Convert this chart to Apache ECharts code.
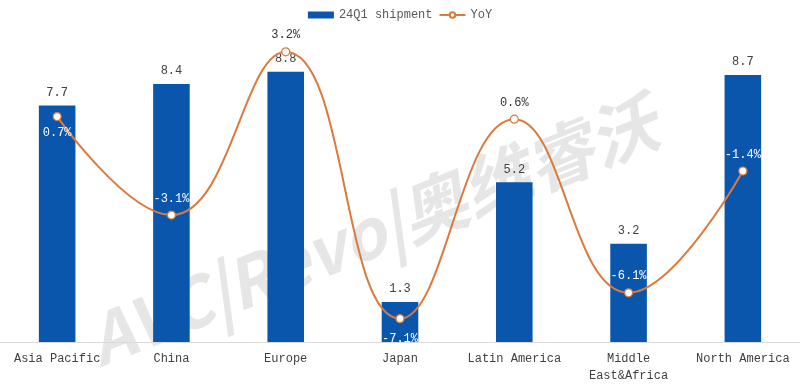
<!DOCTYPE html>
<html><head><meta charset="utf-8">
<script src="https://cdn.jsdelivr.net/npm/echarts@6/dist/echarts.min.js"></script>
<style>html,body{margin:0;padding:0;background:#fff}#c{width:800px;height:384px}</style>
</head><body><div id="c"></div>
<script>
const categories = ['Asia Pacific','China','Europe','Japan','Latin America','Middle\nEast&Africa','North America'];
const shipment = [7.7, 8.4, 8.8, 1.3, 5.2, 3.2, 8.7];
const yoy = [0.7, -3.1, 3.2, -7.1, 0.6, -6.1, -1.4];
const yoyLabelPos = ['bottom','top','top','bottom','top','top','top'];
const yoyLabelColor = ['#fff','#fff','#333','#fff','#333','#fff','#fff'];
const FONT = '"Liberation Mono", "DejaVu Sans Mono", monospace';

const chart = echarts.init(document.getElementById('c'));
chart.setOption({
  animation: false,
  textStyle: {fontFamily: FONT},
  legend: {
    top: 4, left: 'center', itemGap: 6, itemWidth: 26, itemHeight: 7,
    textStyle: {fontFamily: FONT, fontSize: 12, color: '#595959'},
    data: [{name: '24Q1 shipment', icon: 'rect'}, {name: 'YoY'}]
  },
  graphic: [{
    type: 'text', x: 78, y: 312, rotation: 0.38, z: -1, silent: true,
    style: {text: 'AVC|Revo|奥维睿沃', textBaseline: 'bottom', font: 'italic bold 68px "Noto Sans CJK SC", sans-serif', fill: 'rgba(205,205,205,0.5)'}
  }],
  grid: {left: 0, right: 0, top: 35, bottom: 39},
  xAxis: {
    type: 'category', data: categories,
    axisLine: {lineStyle: {color: '#d9d9d9'}}, axisTick: {show: false},
    axisLabel: {fontFamily: FONT, fontSize: 12, color: '#404040', margin: 8, lineHeight: 17, interval: 0}
  },
  yAxis: [
    {type: 'value', min: 0, max: 10, show: false, splitLine: {show: false}},
    {type: 'value', min: -8, max: 3.85, show: false, splitLine: {show: false}}
  ],
  series: [
    {
      name: '24Q1 shipment', type: 'bar', data: shipment, barWidth: '32%', z: 2,
      itemStyle: {color: '#0a56ac'},
      label: {show: true, position: 'top', distance: 7, fontFamily: FONT, fontSize: 12, color: '#404040', formatter: p => p.value.toFixed(1)}
    },
    {
      name: 'YoY', type: 'line', yAxisIndex: 1, smooth: 0.45, z: 3,
      data: yoy.map((v, i) => ({value: v, label: {position: yoyLabelPos[i], color: yoyLabelColor[i], distance: i === 3 ? 10 : 6}})),
      lineStyle: {color: '#dc7a3c', width: 2},
      itemStyle: {color: '#fff', borderColor: '#dc7a3c', borderWidth: 1.2},
      symbol: 'circle', symbolSize: 8,
      label: {show: true, distance: 6, fontFamily: FONT, fontSize: 12, formatter: p => p.value.toFixed(1) + '%'}
    }
  ]
});
</script></body></html>
